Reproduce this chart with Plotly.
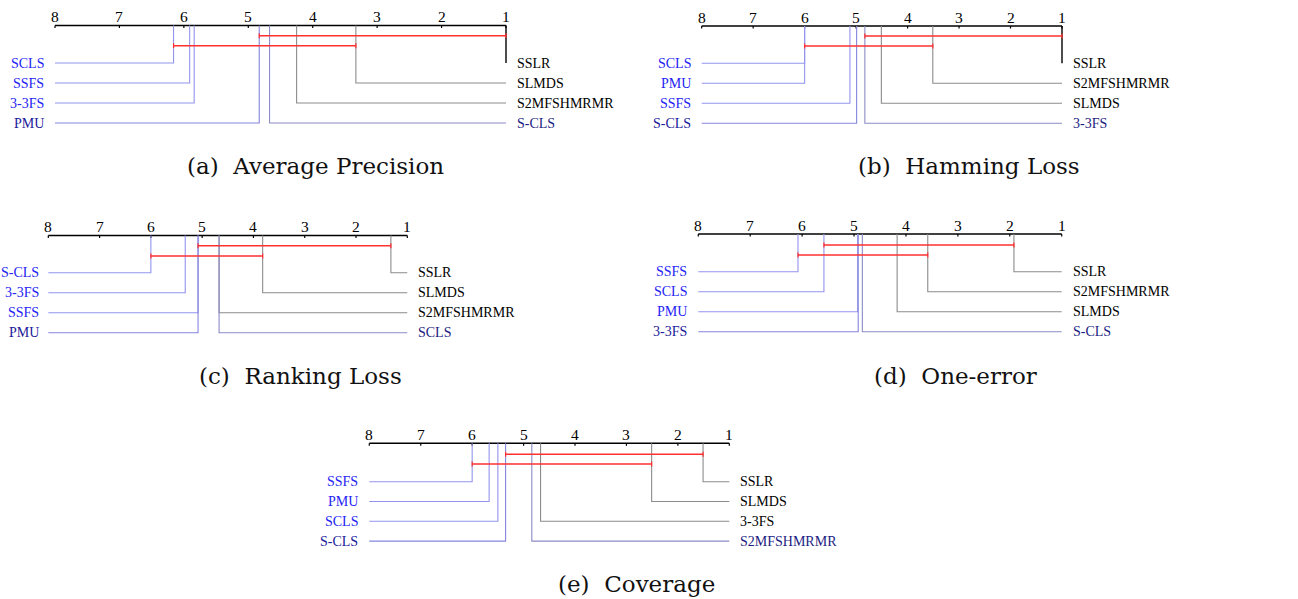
import plotly.graph_objects as go

# ---------------- data (average ranks) ----------------
captions = ["(a)  Average Precision", "(b)  Hamming Loss", "(c)  Ranking Loss",
            "(d)  One-error", "(e)  Coverage"]

a_methods = ["SSLR", "SLMDS", "S2MFSHMRMR", "S-CLS", "PMU", "3-3FS", "SSFS", "SCLS"]
a_ranks = [1.00, 3.33, 4.25, 4.67, 4.83, 5.84, 5.91, 6.16]
a_cliques = [("PMU", "SSLR"), ("SCLS", "SLMDS")]

b_methods = ["SSLR", "S2MFSHMRMR", "SLMDS", "3-3FS", "S-CLS", "SSFS", "PMU", "SCLS"]
b_ranks = [1.00, 3.51, 4.51, 4.83, 4.99, 5.12, 6.00, 6.00]
b_cliques = [("3-3FS", "SSLR"), ("SCLS", "S2MFSHMRMR")]

c_methods = ["SSLR", "SLMDS", "S2MFSHMRMR", "SCLS", "PMU", "SSFS", "3-3FS", "S-CLS"]
c_ranks = [1.32, 3.82, 4.67, 4.67, 5.08, 5.08, 5.33, 6.00]
c_cliques = [("SSFS", "SSLR"), ("S-CLS", "SLMDS")]

d_methods = ["SSLR", "S2MFSHMRMR", "SLMDS", "S-CLS", "3-3FS", "PMU", "SCLS", "SSFS"]
d_ranks = [1.92, 3.58, 4.17, 4.84, 4.92, 4.93, 5.58, 6.08]
d_cliques = [("SCLS", "SSLR"), ("SSFS", "S2MFSHMRMR")]

e_methods = ["SSLR", "SLMDS", "3-3FS", "S2MFSHMRMR", "S-CLS", "SCLS", "PMU", "SSFS"]
e_ranks = [1.51, 2.51, 4.67, 4.84, 5.35, 5.50, 5.67, 6.00]
e_cliques = [("S-CLS", "SSLR"), ("SSFS", "SLMDS")]

tick_values = [1, 2, 3, 4, 5, 6, 7, 8]

# ---------------- layout of each panel (pixels) ----------------
W, H = 1298, 599
panel_geo = [
    dict(p8=55.0, p1=506.0, ay=25.5, bars=[35.7, 45.7], row0=63.0, step=20.0, cx=315, cy=166, gap=9),
    dict(p8=701.7, p1=1062.0, ay=26.0, bars=[36.0, 46.0], row0=63.3, step=20.0, cx=969, cy=166, gap=9),
    dict(p8=48.3, p1=407.3, ay=235.5, bars=[245.7, 256.0], row0=272.7, step=20.0, cx=300, cy=376, gap=7),
    dict(p8=698.3, p1=1061.7, ay=234.0, bars=[245.0, 255.0], row0=271.8, step=20.0, cx=955, cy=376, gap=9),
    dict(p8=369.3, p1=729.3, ay=443.3, bars=[454.3, 464.0], row0=481.7, step=19.8, cx=636, cy=584, gap=9),
]
panel_data = [
    (a_methods, a_ranks, a_cliques),
    (b_methods, b_ranks, b_cliques),
    (c_methods, c_ranks, c_cliques),
    (d_methods, d_ranks, d_cliques),
    (e_methods, e_ranks, e_cliques),
]

LEFT_LINE = "#9494ee"
LEFT_LINE_LAST = "#8585dd"
RIGHT_LINE = "#8c8c8c"
RIGHT_LINE_LAST = "#8c8cc8"
LEFT_TXT = "#2424f4"
LEFT_TXT_LAST = "#20209a"
RIGHT_TXT = "#000000"
RIGHT_TXT_LAST = "#1c1c82"
RED = "#ff3030"
LABEL_FONT = dict(family="Liberation Serif", size=14)
TICK_FONT = dict(family="Liberation Serif", size=15.5, color="#000000")
CAP_FONT = dict(family="DejaVu Serif", size=23, color="#111111")

fig = go.Figure()
annotations = []
layout_axes = {}

for i, ((methods, ranks, cliques), g) in enumerate(zip(panel_data, panel_geo)):
    xa = "x" if i == 0 else f"x{i + 1}"
    xa_key = "xaxis" if i == 0 else f"xaxis{i + 1}"
    upp = 7.0 / (g["p1"] - g["p8"])  # ranks per pixel
    r_left = 8 + g["p8"] * upp
    r_right = 8 - (W - g["p8"]) * upp
    layout_axes[xa_key] = dict(domain=[0, 1], range=[r_left, r_right], visible=False,
                               anchor="y", fixedrange=True)
    ay = g["ay"]
    rmin, rmax = min(tick_values), max(tick_values)

    # main axis
    fig.add_trace(go.Scatter(x=[rmax, rmin], y=[ay, ay], mode="lines",
                             line=dict(color="black", width=1.6), xaxis=xa, yaxis="y",
                             hoverinfo="skip", showlegend=False))
    # ticks
    tx, ty = [], []
    for t in tick_values:
        tx += [t, t, None]
        ty += [ay, ay + 2.5, None]
        annotations.append(dict(x=t, y=ay + 1.5, xref=xa, yref="y", text=str(t),
                                showarrow=False, xanchor="center", yanchor="bottom",
                                font=TICK_FONT))
    fig.add_trace(go.Scatter(x=tx, y=ty, mode="lines", line=dict(color="black", width=1.2),
                             xaxis=xa, yaxis="y", hoverinfo="skip", showlegend=False))

    n = len(methods)
    half = n // 2
    right_side = list(zip(methods[:half], ranks[:half]))
    left_side = list(zip(methods[half:], ranks[half:]))[::-1]

    # left (worse) methods
    for k, (m, r) in enumerate(left_side):
        ry = g["row0"] + k * g["step"]
        last = k == len(left_side) - 1
        fig.add_trace(go.Scatter(x=[r, r, rmax], y=[ay, ry, ry], mode="lines",
                                 line=dict(color=LEFT_LINE_LAST if last else LEFT_LINE, width=1.1),
                                 xaxis=xa, yaxis="y", hoverinfo="skip", showlegend=False))
        annotations.append(dict(x=rmax, y=ry, xref=xa, yref="y", text=m, showarrow=False,
                                xanchor="right", yanchor="middle", xshift=-g["gap"],
                                font=dict(LABEL_FONT, color=LEFT_TXT_LAST if last else LEFT_TXT)))
    # right (better) methods
    for k, (m, r) in enumerate(right_side):
        ry = g["row0"] + k * g["step"]
        last = k == len(right_side) - 1
        col = RIGHT_LINE_LAST if last else RIGHT_LINE
        if r <= rmin + 1e-9:
            col = "black"
        fig.add_trace(go.Scatter(x=[r, r, rmin], y=[ay, ry, ry], mode="lines",
                                 line=dict(color=col, width=1.1 if col != "black" else 1.4),
                                 xaxis=xa, yaxis="y", hoverinfo="skip", showlegend=False))
        annotations.append(dict(x=rmin, y=ry, xref=xa, yref="y", text=m, showarrow=False,
                                xanchor="left", yanchor="middle", xshift=9,
                                font=dict(LABEL_FONT, color=RIGHT_TXT_LAST if last else RIGHT_TXT)))

    # cliques (critical-difference groups)
    rank_of = dict(zip(methods, ranks))
    for (m_hi, m_lo), by in zip(cliques, g["bars"]):
        r_hi, r_lo = rank_of[m_hi], rank_of[m_lo]
        fig.add_trace(go.Scatter(x=[r_hi, r_lo], y=[by, by], mode="lines",
                                 line=dict(color=RED, width=1.5), xaxis=xa, yaxis="y",
                                 hoverinfo="skip", showlegend=False))
        fig.add_trace(go.Scatter(x=[r_hi, r_hi, None, r_lo, r_lo],
                                 y=[by - 2.5, by + 2.5, None, by - 2.5, by + 2.5],
                                 mode="lines", line=dict(color=RED, width=1.2), xaxis=xa, yaxis="y",
                                 hoverinfo="skip", showlegend=False))

    annotations.append(dict(x=g["cx"] / W, y=g["cy"], xref="paper", yref="y",
                            text=captions[i], showarrow=False, xanchor="center",
                            yanchor="middle", font=CAP_FONT))

fig.update_layout(
    width=W, height=H, margin=dict(l=0, r=0, t=0, b=0),
    paper_bgcolor="white", plot_bgcolor="rgba(0,0,0,0)",
    yaxis=dict(domain=[0, 1], range=[H, 0], visible=False, fixedrange=True),
    annotations=annotations, showlegend=False,
    **layout_axes,
)

fig.write_html("out.html")
